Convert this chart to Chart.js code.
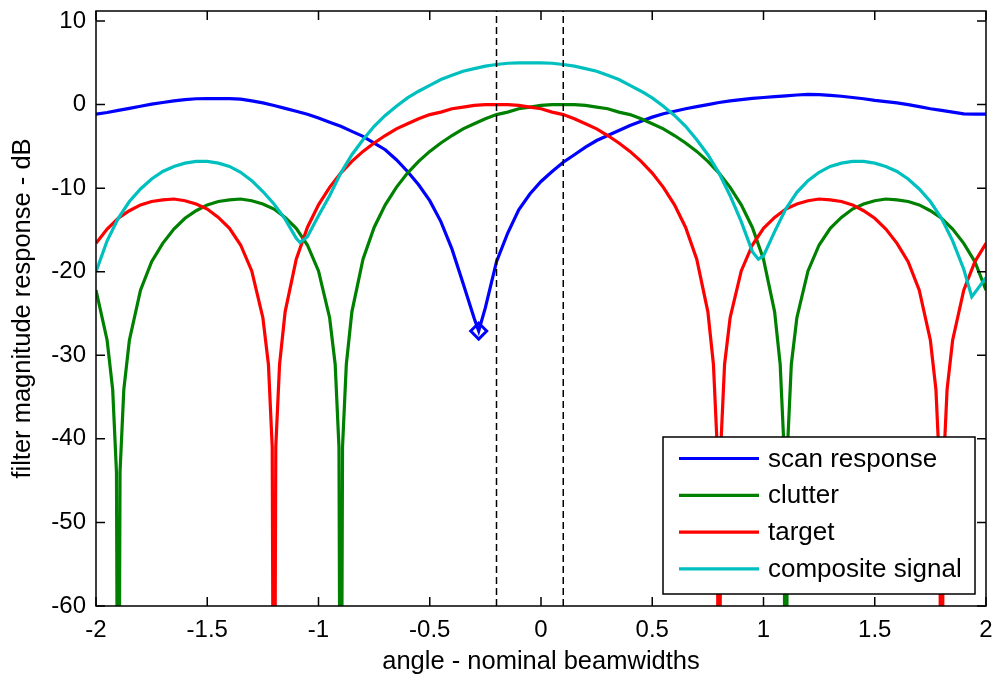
<!DOCTYPE html>
<html>
<head>
<meta charset="utf-8">
<script src="https://cdn.jsdelivr.net/npm/chart.js@4.4.1/dist/chart.umd.min.js"></script>
<style>
  html, body { margin: 0; padding: 0; background: #fff; }
  #wrap { width: 997px; height: 681px; }
</style>
</head>
<body>
<div id="wrap"><canvas id="chart" width="997" height="681"></canvas></div>
<script>
// tick positions
const xTicks = [-2, -1.5, -1, -0.5, 0, 0.5, 1, 1.5, 2];
const yTicks = [-60, -50, -40, -30, -20, -10, 0, 10];
const yMin = -60, yMax = 11.2;

const seriesNames = ["scan response", "clutter", "target", "composite signal"];
const seriesColors = ["#0000ff", "#008000", "#ff0000", "#00bfbf"];

// scan response (dB)
const scanAngles = [-2, -1.95, -1.9, -1.85, -1.8, -1.75, -1.7, -1.65, -1.6, -1.55, -1.5, -1.45, -1.4, -1.35, -1.3, -1.25, -1.2, -1.15, -1.1, -1.05, -1, -0.95, -0.9, -0.85, -0.8, -0.75, -0.7, -0.65, -0.6, -0.55, -0.5, -0.45, -0.4, -0.35, -0.3, -0.28,
  -0.25, -0.2, -0.15, -0.1, -0.05, 0, 0.05, 0.1, 0.15, 0.2, 0.25, 0.3, 0.35, 0.4, 0.45, 0.5, 0.55, 0.6, 0.65, 0.7, 0.75, 0.8, 0.85, 0.9, 0.95, 1, 1.05, 1.1, 1.15, 1.2, 1.25, 1.3, 1.35, 1.4, 1.45, 1.5, 1.55, 1.6, 1.65, 1.7, 1.75, 1.8, 1.85, 1.9, 1.95, 2];
const scanValues = [-1.15, -0.95, -0.7, -0.45, -0.2, 0.05, 0.25, 0.45, 0.6, 0.7, 0.72, 0.72, 0.72, 0.65, 0.45, 0.2, -0.1, -0.45, -0.8, -1.15, -1.6, -2.1, -2.6, -3.2, -3.8, -4.6, -5.4, -6.6, -8.0, -9.6, -11.5, -14.0, -17.3, -21.4, -25.6, -27.1,
  -24.3, -18.8, -15.4, -12.6, -10.7, -9.2, -8.0, -6.9, -6.0, -5.1, -4.3, -3.7, -3.1, -2.5, -2.0, -1.5, -1.1, -0.8, -0.5, -0.25, 0.0, 0.25, 0.45, 0.6, 0.75, 0.85, 0.95, 1.05, 1.15, 1.22, 1.2, 1.1, 1.0, 0.85, 0.7, 0.5, 0.35, 0.2, 0.0, -0.25, -0.5, -0.7, -0.9, -1.1, -1.15, -1.15];

// clutter (dB), nulls drop below the axis floor
const clutterAngles = [-2, -1.95, -1.925, -1.908, -1.9, -1.892, -1.875, -1.85,
  -1.8, -1.75, -1.7, -1.65, -1.6, -1.55, -1.5, -1.45, -1.4, -1.35, -1.3, -1.25, -1.2, -1.15, -1.1, -1.05, -1,
  -0.95, -0.925, -0.908, -0.9, -0.892, -0.875, -0.85,
  -0.8, -0.75, -0.7, -0.65, -0.6, -0.55, -0.5, -0.45, -0.4, -0.35, -0.3, -0.25, -0.2, -0.15, -0.1, -0.05, 0, 0.05, 0.1, 0.15, 0.2, 0.25, 0.3, 0.35, 0.4, 0.45, 0.5, 0.55, 0.6, 0.65, 0.7, 0.75, 0.8, 0.85, 0.9, 0.95, 1, 1.05,
  1.075, 1.092, 1.1, 1.108, 1.125, 1.15,
  1.2, 1.25, 1.3, 1.35, 1.4, 1.45, 1.5, 1.55, 1.6, 1.65, 1.7, 1.75, 1.8, 1.85, 1.9, 1.95, 2];
const clutterValues = [-22.2, -28.2, -34.1, -44.0, -100, -44.0, -34.1, -28.2,
  -22.2, -18.8, -16.6, -14.9, -13.6, -12.7, -12.0, -11.6, -11.4, -11.3, -11.5, -11.9, -12.5, -13.5, -14.8, -16.8, -19.9,
  -25.5, -31.1, -41.0, -100, -41.0, -31.1, -24.8,
  -18.5, -14.7, -12.0, -9.9, -8.2, -6.8, -5.6, -4.6, -3.7, -2.9, -2.3, -1.7, -1.2, -0.9, -0.5, -0.3, -0.1, 0.0, 0.0, 0.0, -0.1, -0.3, -0.5, -0.9, -1.2, -1.7, -2.3, -2.9, -3.7, -4.6, -5.6, -6.8, -8.2, -9.9, -12.0, -14.7, -18.5, -24.8,
  -31.1, -41.0, -100, -41.0, -31.1, -25.5,
  -19.9, -16.8, -14.8, -13.5, -12.5, -11.9, -11.5, -11.3, -11.4, -11.6, -12.0, -12.7, -13.6, -14.9, -16.6, -18.8, -22.2];

// target (dB)
const targetAngles = [-2, -1.95, -1.9, -1.85, -1.8, -1.75, -1.7, -1.65, -1.6, -1.55, -1.5, -1.45, -1.4, -1.35, -1.3, -1.25,
  -1.225, -1.208, -1.2, -1.192, -1.175,
  -1.15, -1.1, -1.05, -1, -0.95, -0.9, -0.85, -0.8, -0.75, -0.7, -0.65, -0.6, -0.55, -0.5, -0.45, -0.4, -0.35, -0.3, -0.25, -0.2, -0.15, -0.1, -0.05, 0, 0.05, 0.1, 0.15, 0.2, 0.25, 0.3, 0.35, 0.4, 0.45, 0.5, 0.55, 0.6, 0.65, 0.7, 0.75,
  0.775, 0.792, 0.8, 0.808, 0.825,
  0.85, 0.9, 0.95, 1, 1.05, 1.1, 1.15, 1.2, 1.25, 1.3, 1.35, 1.4, 1.45, 1.5, 1.55, 1.6, 1.65, 1.7, 1.75,
  1.775, 1.792, 1.8, 1.808, 1.825,
  1.85, 1.9, 1.95, 2];
const targetValues = [-16.6, -14.9, -13.6, -12.7, -12.0, -11.6, -11.4, -11.3, -11.5, -11.9, -12.5, -13.5, -14.8, -16.8, -19.9, -25.5,
  -31.1, -41.0, -100, -41.0, -31.1,
  -24.8, -18.5, -14.7, -12.0, -9.9, -8.2, -6.8, -5.6, -4.6, -3.7, -2.9, -2.3, -1.7, -1.2, -0.9, -0.5, -0.3, -0.1, 0.0, 0.0, 0.0, -0.1, -0.3, -0.5, -0.9, -1.2, -1.7, -2.3, -2.9, -3.7, -4.6, -5.6, -6.8, -8.2, -9.9, -12.0, -14.7, -18.5, -24.8,
  -31.1, -41.0, -100, -41.0, -31.1,
  -25.5, -19.9, -16.8, -14.8, -13.5, -12.5, -11.9, -11.5, -11.3, -11.4, -11.6, -12.0, -12.7, -13.6, -14.9, -16.6, -18.8, -22.2, -28.2,
  -34.1, -44.0, -100, -44.0, -34.1,
  -28.2, -22.2, -18.8, -16.6];

// composite signal (dB)
const compositeAngles = [-2, -1.95, -1.9, -1.85, -1.8, -1.75, -1.7, -1.65, -1.6, -1.55, -1.5, -1.45, -1.4, -1.35, -1.3, -1.25, -1.2, -1.15, -1.1, -1.083,
  -1.05, -1, -0.95, -0.9, -0.85, -0.8, -0.75, -0.7, -0.65, -0.6, -0.55, -0.5, -0.45, -0.4, -0.35, -0.3, -0.25, -0.2, -0.15, -0.1, -0.05, 0, 0.05, 0.1, 0.15, 0.2, 0.25, 0.3, 0.35, 0.4, 0.45, 0.5, 0.55, 0.6, 0.65, 0.7, 0.75, 0.8, 0.85, 0.9, 0.95, 0.977,
  1, 1.05, 1.1, 1.15, 1.2, 1.25, 1.3, 1.35, 1.4, 1.45, 1.5, 1.55, 1.6, 1.65, 1.7, 1.75, 1.8, 1.85, 1.9, 1.936, 1.95, 2];
const compositeValues = [-20.0, -16.3, -13.6, -11.6, -10.1, -8.9, -8.0, -7.4, -7.0, -6.8, -6.8, -7.0, -7.4, -8.1, -9.1, -10.4, -11.9, -13.7, -16.0, -16.5,
  -15.8, -13.3, -10.9, -8.2, -6.0, -4.2, -2.6, -1.3, -0.2, 0.8, 1.6, 2.3, 3.0, 3.5, 4.0, 4.3, 4.6, 4.8, 4.95, 5.0, 5.0, 5.0, 4.95, 4.8, 4.6, 4.3, 4.0, 3.5, 3.0, 2.3, 1.6, 0.8, -0.2, -1.3, -2.6, -4.2, -6.0, -8.2, -10.9, -14.0, -17.6, -18.5,
  -18.1, -15.2, -12.5, -10.5, -9.1, -8.1, -7.4, -7.0, -6.8, -6.8, -7.0, -7.4, -8.0, -8.9, -10.1, -11.6, -13.6, -16.3, -19.7, -23.0, -22.5, -20.7];

// minimum of scan response, and beam edges (dashed)
const markerAngles = [-0.28];
const markerValues = [-27.1];
const beamEdges = [-0.2, 0.1];

const fontFamily = "'Liberation Sans', Arial, sans-serif";
Chart.defaults.font.family = fontFamily;
Chart.defaults.color = "#000";

const toPoints = (xs, ys) => xs.map((x, i) => ({ x: x, y: ys[i] }));

const lineSet = (i, xs, ys, order) => ({
  label: seriesNames[i],
  data: toPoints(xs, ys),
  borderColor: seriesColors[i],
  backgroundColor: seriesColors[i],
  borderWidth: 3.2,
  pointRadius: 0,
  tension: 0,
  fill: false,
  order: order
});

const datasets = [
  lineSet(0, scanAngles, scanValues, 4),
  lineSet(1, clutterAngles, clutterValues, 3),
  lineSet(2, targetAngles, targetValues, 2),
  lineSet(3, compositeAngles, compositeValues, 1),
  {
    label: "null",
    data: toPoints(markerAngles, markerValues),
    showLine: false,
    pointStyle: "rectRot",
    pointRadius: 8,
    pointBorderWidth: 3,
    pointBorderColor: seriesColors[0],
    pointBackgroundColor: "rgba(0,0,0,0)",
    order: 0
  }
];
beamEdges.forEach(e => {
  datasets.push({
    label: "edge",
    data: [{ x: e, y: yMin }, { x: e, y: yMax }],
    borderColor: "#000",
    borderWidth: 1.5,
    borderDash: [7, 4],
    pointRadius: 0,
    order: -1
  });
});

// box, inward ticks on all four sides, and the legend inside the plot
const framePlugin = {
  id: "frame",
  afterDatasetsDraw(chart) {
    const { ctx, chartArea: a, scales } = chart;
    const tl = 9;
    ctx.save();
    ctx.strokeStyle = "#000";
    ctx.lineWidth = 1.5;
    ctx.beginPath();
    scales.x.ticks.forEach(t => {
      const px = scales.x.getPixelForValue(t.value);
      ctx.moveTo(px, a.bottom); ctx.lineTo(px, a.bottom - tl);
      ctx.moveTo(px, a.top); ctx.lineTo(px, a.top + tl);
    });
    scales.y.ticks.forEach(t => {
      const py = scales.y.getPixelForValue(t.value);
      ctx.moveTo(a.left, py); ctx.lineTo(a.left + tl, py);
      ctx.moveTo(a.right, py); ctx.lineTo(a.right - tl, py);
    });
    ctx.stroke();
    ctx.strokeRect(a.left, a.top, a.right - a.left, a.bottom - a.top);

    // legend
    const w = 312, h = 157;
    const bx = a.right - 11 - w, by = a.bottom - 12 - h;
    ctx.fillStyle = "#fff";
    ctx.fillRect(bx, by, w, h);
    ctx.strokeRect(bx, by, w, h);
    ctx.font = "26px " + fontFamily;
    ctx.textBaseline = "middle";
    ctx.textAlign = "left";
    seriesNames.forEach((name, i) => {
      const y = by + 21.5 + i * 36.8;
      ctx.strokeStyle = seriesColors[i];
      ctx.lineWidth = 3.2;
      ctx.beginPath();
      ctx.moveTo(bx + 16, y);
      ctx.lineTo(bx + 96, y);
      ctx.stroke();
      ctx.fillStyle = "#000";
      ctx.fillText(name, bx + 105, y + 1);
    });
    ctx.restore();
  }
};

new Chart(document.getElementById("chart"), {
  type: "line",
  data: { datasets: datasets },
  options: {
    responsive: false,
    animation: false,
    devicePixelRatio: 1,
    layout: { padding: { top: 10, right: 11, left: 0, bottom: 0 } },
    plugins: { legend: { display: false }, tooltip: { enabled: false } },
    scales: {
      x: {
        type: "linear",
        min: -2,
        max: 2,
        afterBuildTicks: s => { s.ticks = xTicks.map(v => ({ value: v })); },
        afterFit: s => { s.height = 75; s.paddingLeft = 0; s.paddingRight = 0; },
        grid: { display: false, drawTicks: false },
        border: { display: false },
        ticks: { autoSkip: false, maxRotation: 0, padding: 10, font: { size: 24 }, callback: v => String(v) },
        title: { display: true, text: "angle - nominal beamwidths", font: { size: 25.5 }, padding: { top: 0, bottom: 4 } }
      },
      y: {
        type: "linear",
        min: yMin,
        max: yMax,
        afterBuildTicks: s => { s.ticks = yTicks.map(v => ({ value: v })); },
        afterFit: s => { s.width = 96; s.paddingTop = 0; s.paddingBottom = 0; },
        grid: { display: false, drawTicks: false },
        border: { display: false },
        ticks: { autoSkip: false, padding: 10, font: { size: 24 }, callback: v => String(v) },
        title: { display: true, text: "filter magnitude response - dB", font: { size: 25.5 }, padding: { top: 8, bottom: 0 } }
      }
    }
  },
  plugins: [framePlugin]
});
</script>
</body>
</html>
